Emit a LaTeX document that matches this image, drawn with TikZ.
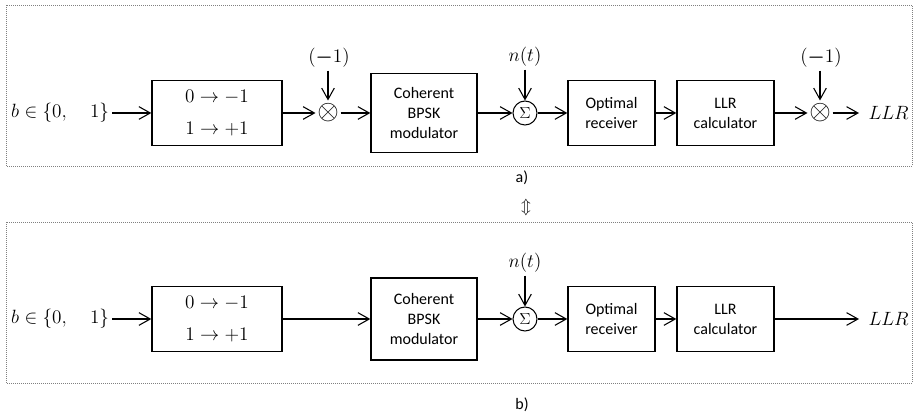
\documentclass[tikz,border=0pt]{standalone}
\usepackage{amsmath, amssymb}
\usepackage{fontspec}
\setsansfont{Carlito}
\usetikzlibrary{arrows.meta}

\newcommand{\mfont}{\fontsize{15}{18}\selectfont}

\begin{document}
\begin{tikzpicture}[x=0.75pt,y=-0.75pt,
    >={Straight Barb[length=8.5pt,width=9.5pt]},
    blk/.style={draw, line width=1pt, align=center, inner sep=0pt, font=\sffamily\fontsize{12}{15}\selectfont},
    sig/.style={->, line width=0.8pt},
    lbl/.style={font=\mfont, inner sep=2pt},
    outlbl/.style={font=\mfont, inner sep=7pt, anchor=west},
    mul/.style={circle, inner sep=-1pt, font=\fontsize{20}{20}\selectfont},
    summ/.style={circle, draw, line width=0.75pt, minimum size=18pt, inner sep=0pt, font=\fontsize{13}{13}\selectfont},
    frame/.style={draw=gray, densely dotted, line width=0.5pt}]
\useasboundingbox (0,0) rectangle (914,416);

% frames
\draw[frame] (6,5) rectangle (912,166);
\draw[frame] (6,222) rectangle (912,383);

% a) with the two multipliers
\node[lbl, anchor=east] (inA) at (112,113) {$b\in\{0,\quad 1\}$};
\node[blk, minimum width=97.5pt, minimum height=48.75pt, font=\fontsize{15}{24}\selectfont] (mapA) at (217,113) {$0\rightarrow -1$\\$1\rightarrow +1$};
\node[mul] (mulA) at (328,113) {$\otimes$};
\node[lbl] (negA) at (329,58) {$(\boldsymbol{-}1)$};
\node[blk, minimum width=79.5pt, minimum height=59.25pt] (modA) at (424,113) {Coherent\\BPSK\\modulator};
\node[summ] (sumA) at (525,113) {$\Sigma$};
\node[lbl] (noiseA) at (525,57) {$n(t)$};
\node[blk, minimum width=65.25pt, minimum height=48.75pt] (rxA) at (611.5,113) {Optimal\\receiver};
\node[blk, minimum width=72.75pt, minimum height=48.75pt] (llrA) at (725.5,113) {LLR\\calculator};
\node[mul] (mulB) at (820,113) {$\otimes$};
\node[lbl] (negB) at (821,58) {$(\boldsymbol{-}1)$};
\node[outlbl] (outA) at (859,113) {$LLR$};
\node[font=\sffamily\fontsize{12}{14}\selectfont] (capA) at (522,178) {a)};

\draw[sig] (inA) -- (mapA);
\draw[sig] (mapA) -- (mulA);
\draw[sig] (negA.south -| mulA) -- (mulA);
\draw[sig] (mulA) -- (modA);
\draw[sig] (modA) -- (sumA);
\draw[sig] (noiseA) -- (sumA);
\draw[sig] (sumA) -- (rxA);
\draw[sig] (rxA) -- (llrA);
\draw[sig] (llrA) -- (mulB);
\draw[sig] (negB.south -| mulB) -- (mulB);
\draw[sig] (mulB) -- (outA);

\node[font=\fontsize{12}{14}\selectfont] (equiv) at (526,208) {$\Updownarrow$};

% b) without them
\node[lbl, anchor=east] (inB) at (112,319) {$b\in\{0,\quad 1\}$};
\node[blk, minimum width=97.5pt, minimum height=48.75pt, font=\fontsize{15}{24}\selectfont] (mapB) at (217,319) {$0\rightarrow -1$\\$1\rightarrow +1$};
\node[blk, minimum width=79.5pt, minimum height=61.5pt] (modB) at (424,319) {Coherent\\BPSK\\modulator};
\node[summ] (sumB) at (525,319) {$\Sigma$};
\node[lbl] (noiseB) at (525,263) {$n(t)$};
\node[blk, minimum width=65.25pt, minimum height=48.75pt] (rxB) at (611.5,319) {Optimal\\receiver};
\node[blk, minimum width=72.75pt, minimum height=48.75pt] (llrB) at (725.5,319) {LLR\\calculator};
\node[outlbl] (outB) at (859,319) {$LLR$};
\node[font=\sffamily\fontsize{12}{14}\selectfont] (capB) at (522,405) {b)};

\draw[sig] (inB) -- (mapB);
\draw[sig] (mapB) -- (modB);
\draw[sig] (modB) -- (sumB);
\draw[sig] (noiseB) -- (sumB);
\draw[sig] (sumB) -- (rxB);
\draw[sig] (rxB) -- (llrB);
\draw[sig] (llrB) -- (outB);
\end{tikzpicture}
\end{document}
